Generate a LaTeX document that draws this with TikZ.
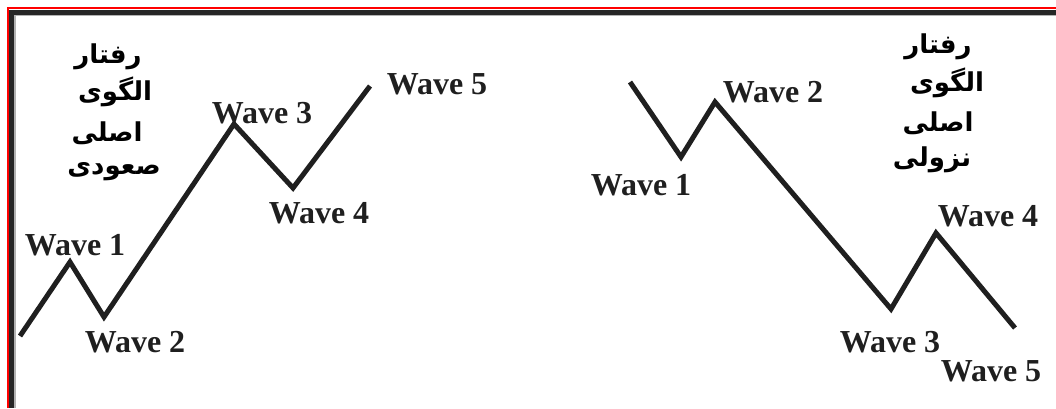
\documentclass[tikz,border=0pt]{standalone}
\usepackage{fontspec}
\setmainfont{Liberation Serif}
\newfontfamily\arabicfont[Script=Arabic]{DejaVu Sans}
\TeXXeTstate=1
\begin{document}
\begin{tikzpicture}[x=1pt,y=-1pt,
  wave/.style={line width=5pt,draw={black!88},line join=miter,line cap=butt},
  wlabel/.style={font=\fontsize{32}{34}\selectfont\bfseries,text={black!88},inner sep=0pt},
  plabel/.style={font=\arabicfont\bfseries\fontsize{26}{28}\selectfont,inner sep=0pt}]
\useasboundingbox (0,0) rectangle (1056,408);
\fill[white] (0,0) rectangle (1056,408);
% frame
\draw[red,line width=2.5pt] (8,408) -- (8,8.2) -- (1056,8.2);
\draw[black!85,line width=5pt] (11.8,408) -- (11.8,12.5) -- (1056,12.5);
\draw[black!30,line width=1.2pt] (15,408) -- (15,15.6) -- (1056,15.6);
% left (rising) pattern
\coordinate (a0) at (20,336);
\coordinate (a1) at (70,262);
\coordinate (a2) at (104,317);
\coordinate (a3) at (234,124);
\coordinate (a4) at (293,188);
\coordinate (a5) at (370,86);
\draw[wave] (a0) -- (a1) -- (a2) -- (a3) -- (a4) -- (a5);
\node[wlabel] (l1) at (75,245) {Wave 1};
\node[wlabel] (l2) at (135,342) {Wave 2};
\node[wlabel] (l3) at (262,113) {Wave 3};
\node[wlabel] (l4) at (319,213) {Wave 4};
\node[wlabel] (l5) at (437,84) {Wave 5};
\node[plabel] (p1) at (108,57) {\beginR رفتار\endR};
\node[plabel] (p2) at (115,92) {\beginR الگوی\endR};
\node[plabel] (p3) at (107,133) {\beginR اصلی\endR};
\node[plabel] (p4) at (114,172) {\beginR صعودی\endR};
% right (falling) pattern
\coordinate (b0) at (630,82);
\coordinate (b1) at (681,157);
\coordinate (b2) at (715,102);
\coordinate (b3) at (891,309);
\coordinate (b4) at (936,233);
\coordinate (b5) at (1015,328);
\draw[wave] (b0) -- (b1) -- (b2) -- (b3) -- (b4) -- (b5);
\node[wlabel] (r1) at (641,185) {Wave 1};
\node[wlabel] (r2) at (773,92) {Wave 2};
\node[wlabel] (r3) at (890,342) {Wave 3};
\node[wlabel] (r4) at (988,216) {Wave 4};
\node[wlabel] (r5) at (991,371) {Wave 5};
\node[plabel] (q1) at (938,47) {\beginR رفتار\endR};
\node[plabel] (q2) at (947,83) {\beginR الگوی\endR};
\node[plabel] (q3) at (938,123) {\beginR اصلی\endR};
\node[plabel] (q4) at (932,160) {\beginR نزولی\endR};
\end{tikzpicture}
\end{document}
